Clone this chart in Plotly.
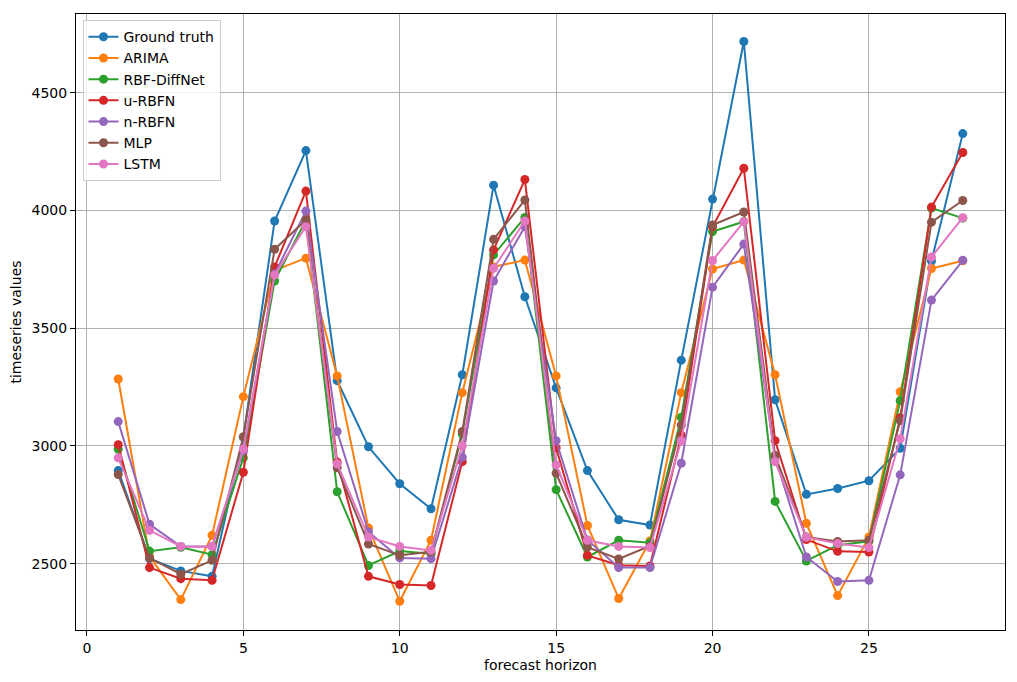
import plotly.graph_objects as go

horizon = list(range(1, 29))

ground_truth = [2895, 2521, 2469, 2446, 3037, 3955, 4254, 3277, 2996, 2839, 2733, 3302, 4107, 3633,
                3246, 2895, 2686, 2664, 3364, 4048, 4717, 3196, 2794, 2819, 2852, 2990, 3785, 4326]
arima = [3284, 2530, 2347, 2620, 3209, 3745, 3797, 3297, 2651, 2340, 2599, 3226, 3760, 3789,
         3297, 2662, 2352, 2596, 3226, 3751, 3789, 3302, 2671, 2364, 2613, 3230, 3753, 3786]
rbf_diffnet = [2986, 2553, 2569, 2538, 2949, 3700, 3959, 2805, 2492, 2553, 2542, 3050, 3811, 3970,
               2814, 2528, 2599, 2589, 3121, 3910, 3952, 2764, 2511, 2578, 2595, 3192, 4010, 3967]
u_rbfn = [3005, 2483, 2436, 2429, 2888, 3760, 4082, 2931, 2446, 2411, 2407, 2933, 3832, 4131,
          2991, 2535, 2493, 2490, 3044, 3930, 4179, 3022, 2602, 2552, 2549, 3119, 4014, 4246]
n_rbfn = [3103, 2667, 2573, 2573, 2980, 3730, 3997, 3061, 2634, 2524, 2521, 2952, 3700, 3931,
          3022, 2600, 2483, 2483, 2926, 3674, 3857, 2950, 2528, 2424, 2429, 2877, 3619, 3788]
mlp = [2878, 2524, 2455, 2514, 3039, 3835, 3959, 2907, 2583, 2535, 2550, 3061, 3877, 4044,
       2884, 2570, 2520, 2575, 3089, 3938, 3993, 2959, 2613, 2594, 2599, 3107, 3950, 4042]
lstm = [2949, 2641, 2573, 2572, 2987, 3726, 3931, 2924, 2613, 2573, 2556, 3000, 3754, 3955,
        2919, 2599, 2573, 2568, 3022, 3787, 3952, 2933, 2612, 2585, 2568, 3030, 3802, 3969]

series = [("Ground truth", ground_truth, "#1f77b4"),
          ("ARIMA", arima, "#ff7f0e"),
          ("RBF-DiffNet", rbf_diffnet, "#2ca02c"),
          ("u-RBFN", u_rbfn, "#d62728"),
          ("n-RBFN", n_rbfn, "#9467bd"),
          ("MLP", mlp, "#8c564b"),
          ("LSTM", lstm, "#e377c2")]

fig = go.Figure()
for name, values, color in series:
    fig.add_trace(go.Scatter(x=horizon, y=values, name=name, mode="lines+markers",
                             line=dict(color=color, width=2),
                             marker=dict(color=color, size=9)))

axis_style = dict(showline=True, mirror=True, linecolor="black", linewidth=1,
                  ticks="outside", ticklen=5, tickcolor="black",
                  showgrid=True, gridcolor="#b0b0b0", gridwidth=1, zeroline=False,
                  tickfont=dict(size=14, color="black"))

fig.update_xaxes(range=[-0.35, 29.35], tickvals=[0, 5, 10, 15, 20, 25],
                 title=dict(text="forecast horizon", font=dict(size=14, color="black"), standoff=5),
                 **axis_style)
fig.update_yaxes(range=[2218, 4834], tickvals=[2500, 3000, 3500, 4000, 4500],
                 title=dict(text="timeseries values", font=dict(size=14, color="black"), standoff=7),
                 **axis_style)

# page body has an 8px margin, so the figure is shrunk to fit the window
fig.update_layout(width=1009, height=674,
                  margin=dict(l=68, r=12, t=6, b=52),
                  plot_bgcolor="white", paper_bgcolor="white",
                  font=dict(family="DejaVu Sans", size=14, color="black"),
                  legend=dict(x=0.007, y=0.99, xanchor="left", yanchor="top",
                              bgcolor="rgba(255,255,255,0.8)", bordercolor="#cccccc", borderwidth=1,
                              font=dict(size=14), tracegroupgap=0, itemwidth=30),
                  showlegend=True)

fig.write_html("out.html")
